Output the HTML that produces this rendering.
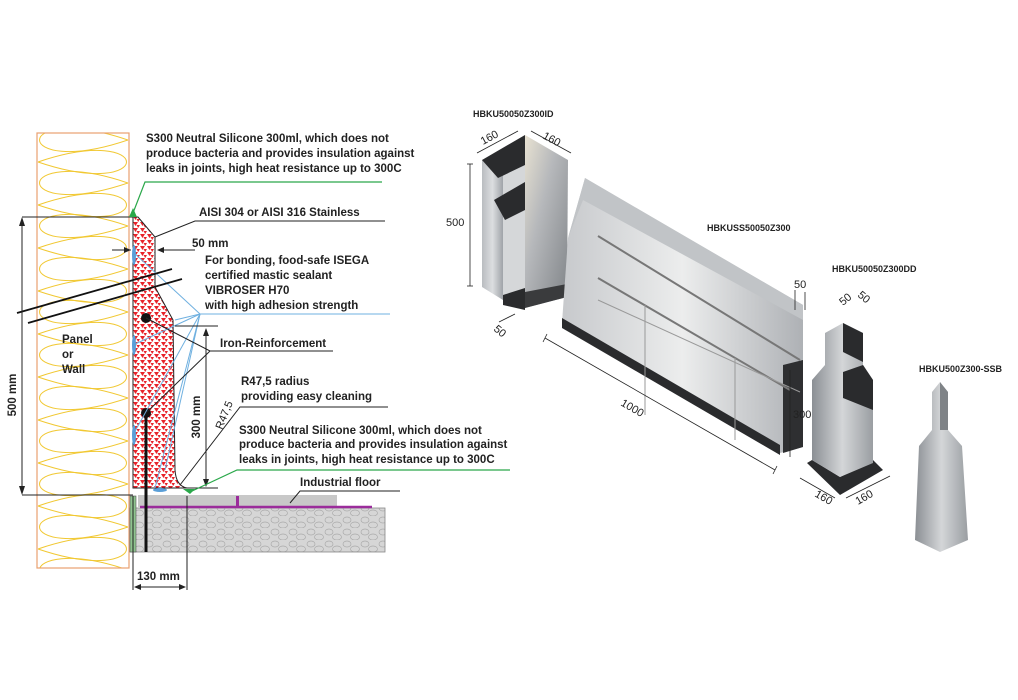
<!DOCTYPE html>
<html><head><meta charset="utf-8"><style>
html,body{margin:0;padding:0;background:#fff;}
svg{display:block;}
text{font-family:"Liberation Sans",sans-serif;}
.t{font-size:11.5px;font-weight:bold;fill:#222;}
.l{font-size:11px;fill:#222;}
.c{font-size:9px;font-weight:bold;fill:#222;}
</style></head><body>
<svg width="1018" height="700" viewBox="0 0 1018 700" xmlns="http://www.w3.org/2000/svg">
<defs>
<pattern id="tri" width="7" height="6" patternUnits="userSpaceOnUse">
<rect width="7" height="6" fill="#fff"/>
<polygon points="0,0 5,0 2.5,4" fill="#e8232a"/>
<polygon points="3.5,3 7,3 5.2,6" fill="#e8232a"/>
</pattern>
<pattern id="stone" width="18" height="12" patternUnits="userSpaceOnUse">
<rect width="18" height="12" fill="#d6d6d6"/>
<ellipse cx="5" cy="4" rx="4" ry="3" fill="none" stroke="#aaa" stroke-width="0.7"/>
<ellipse cx="13" cy="9" rx="4.5" ry="3" fill="none" stroke="#aaa" stroke-width="0.7"/>
</pattern>
<linearGradient id="m1" x1="0" y1="0" x2="1" y2="0"><stop offset="0" stop-color="#b9bcc0"/><stop offset="0.5" stop-color="#dcdee0"/><stop offset="1" stop-color="#9fa3a8"/></linearGradient>
<linearGradient id="m2" x1="0" y1="0" x2="1" y2="1"><stop offset="0" stop-color="#e8e2d2"/><stop offset="0.4" stop-color="#b6b8bb"/><stop offset="1" stop-color="#7f8387"/></linearGradient>
<linearGradient id="m3" x1="0" y1="0" x2="1" y2="0"><stop offset="0" stop-color="#c7c9cc"/><stop offset="0.5" stop-color="#eceded"/><stop offset="1" stop-color="#aeb1b5"/></linearGradient>
<linearGradient id="m4" x1="0" y1="0" x2="1" y2="0"><stop offset="0" stop-color="#8b8f94"/><stop offset="0.5" stop-color="#d4d6d8"/><stop offset="1" stop-color="#9a9ea2"/></linearGradient>
<clipPath id="pc"><rect x="37" y="133" width="92" height="435"/></clipPath>
</defs>

<!-- Panel -->
<rect x="37" y="133" width="92" height="435" fill="#fff"/>
<g fill="none" stroke="#f1c832" stroke-width="1" clip-path="url(#pc)">
<g id="lp"><path d="M128,140 C10,100 10,180 128,140"/><path d="M38,162 C156,122 156,202 38,162"/></g>
<use href="#lp" y="43"/><use href="#lp" y="86"/><use href="#lp" y="129"/><use href="#lp" y="172"/><use href="#lp" y="215"/><use href="#lp" y="258"/><use href="#lp" y="301"/><use href="#lp" y="344"/><use href="#lp" y="387"/><use href="#lp" y="430"/>
</g>
<rect x="37" y="133" width="92" height="435" fill="none" stroke="#e8a070" stroke-width="1.2"/>
<text x="62" y="343" class="t">Panel</text>
<text x="62" y="358" class="t">or</text>
<text x="62" y="373" class="t">Wall</text>

<!-- floor -->
<rect x="130" y="508" width="255" height="44" fill="url(#stone)" stroke="#888" stroke-width="0.8"/>
<rect x="138" y="495" width="199" height="12" fill="#c8c8c8"/>
<line x1="140" y1="507" x2="372" y2="507" stroke="#9b2c9b" stroke-width="2.5"/>
<rect x="236" y="496" width="3" height="11" fill="#9b2c9b"/>
<rect x="130" y="496" width="6" height="56" fill="#8fc48f" stroke="#555" stroke-width="0.6"/>

<!-- skirting -->
<path d="M133,217 L138,217 L155,237 L155,287 L173,320 L175,470 Q176,486 187,488 L133,488 Z" fill="url(#tri)" stroke="#222" stroke-width="1"/>
<line x1="146" y1="410" x2="146" y2="552" stroke="#111" stroke-width="3"/>
<circle cx="146" cy="318" r="5" fill="#111"/><circle cx="146" cy="413" r="5" fill="#111"/>

<!-- blue lines -->
<g stroke="#6fb0e0" stroke-width="1" fill="none">
<line x1="133" y1="252" x2="200" y2="314"/><line x1="133" y1="345" x2="200" y2="314"/><line x1="133" y1="435" x2="200" y2="314"/>
<line x1="155" y1="488" x2="200" y2="314"/><line x1="175" y1="320" x2="200" y2="314"/><line x1="165" y1="470" x2="200" y2="314"/>
<line x1="200" y1="314" x2="390" y2="314"/>
</g>
<g fill="#5a9fd8"><ellipse cx="134" cy="255" rx="2" ry="10"/><ellipse cx="134" cy="345" rx="2" ry="10"/><ellipse cx="134" cy="435" rx="2" ry="10"/><ellipse cx="160" cy="490" rx="7" ry="2"/></g>

<!-- panel diagonal lines -->
<g stroke="#111" stroke-width="1.8"><line x1="17" y1="313" x2="172" y2="269"/><line x1="28" y1="323" x2="182" y2="279"/></g>

<!-- black leader lines -->
<g stroke="#222" stroke-width="1" fill="none">
<line x1="22" y1="217" x2="133" y2="217"/><line x1="22" y1="495" x2="133" y2="495"/><line x1="22" y1="219" x2="22" y2="493"/>
<polyline points="155,237 195,221 385,221"/>
<line x1="112" y1="250" x2="131" y2="250"/><line x1="160" y1="250" x2="195" y2="250"/>
<line x1="175" y1="326" x2="218" y2="326"/><line x1="175" y1="488" x2="218" y2="488"/>
<line x1="206" y1="330" x2="206" y2="485"/>
<polyline points="146,318 210,351 333,351"/><line x1="146" y1="413" x2="210" y2="351"/>
<polyline points="180,485 240,407 388,407"/>
<polyline points="290,503 300,491 400,491"/>
<line x1="133" y1="496" x2="133" y2="590"/><line x1="187" y1="496" x2="187" y2="590"/><line x1="135" y1="587" x2="185" y2="587"/>
</g>
<g fill="#222">
<polygon points="22,217 19,226 25,226"/><polygon points="22,495 19,486 25,486"/>
<polygon points="131,250 124,247 124,253"/><polygon points="157,250 164,247 164,253"/>
<polygon points="206,328 203,336 209,336"/><polygon points="206,487 203,479 209,479"/>
<polygon points="134,587 141,584 141,590"/><polygon points="186,587 179,584 179,590"/>
</g>
<!-- green leaders -->
<g stroke="#2aa84a" stroke-width="1.2" fill="none"><polyline points="133,213 145,182 382,182"/><polyline points="190,492 237,470 510,470"/></g>
<g fill="#2aa84a"><polygon points="129,217 137,217 133,208"/><polygon points="183,489 195,489 190,494"/></g>

<text x="16" y="395" class="t" transform="rotate(-90 16 395)" text-anchor="middle">500 mm</text>
<text x="200" y="417" class="t" transform="rotate(-90 200 417)" text-anchor="middle">300 mm</text>
<text x="222" y="430" class="l" transform="rotate(-68 222 430)">R47,5</text>

<text x="146" y="142" class="t">S300 Neutral Silicone 300ml, which does not</text>
<text x="146" y="157" class="t">produce bacteria and provides insulation against</text>
<text x="146" y="172" class="t">leaks in joints, high heat resistance up to 300C</text>
<text x="199" y="216" class="t">AISI 304 or AISI 316 Stainless</text>
<text x="192" y="247" class="t">50 mm</text>
<text x="205" y="264" class="t">For bonding, food-safe ISEGA</text>
<text x="205" y="279" class="t">certified mastic sealant</text>
<text x="205" y="294" class="t">VIBROSER H70</text>
<text x="205" y="309" class="t">with high adhesion strength</text>
<text x="220" y="347" class="t">Iron-Reinforcement</text>
<text x="241" y="385" class="t">R47,5 radius</text>
<text x="241" y="400" class="t">providing easy cleaning</text>
<text x="239" y="434" class="t">S300 Neutral Silicone 300ml, which does not</text>
<text x="239" y="448" class="t">produce bacteria and provides insulation against</text>
<text x="239" y="463" class="t">leaks in joints, high heat resistance up to 300C</text>
<text x="300" y="486" class="t">Industrial floor</text>
<text x="137" y="580" class="t">130 mm</text>

<!-- ===== right side ===== -->
<!-- ID piece -->
<polygon points="482,160 503,172 503,300 482,287" fill="url(#m1)"/>
<polygon points="503,172 525,160 525,308 503,300" fill="#d5d7d9"/>
<polygon points="525,135 568,160 567,297 525,308" fill="url(#m2)"/>
<polygon points="482,160 525,135 525,165 498,178" fill="#2a2b2d"/>
<polygon points="494,200 525,182 525,210 505,220" fill="#2a2b2d"/>
<polygon points="503,295 525,288 525,310 503,305" fill="#2a2b2d"/>
<polygon points="525,292 567,284 567,297 525,308" fill="#3a3b3d"/>
<g stroke="#222" stroke-width="0.8" fill="none">
<line x1="470" y1="164" x2="470" y2="286"/><line x1="467" y1="164" x2="473" y2="164"/><line x1="467" y1="286" x2="473" y2="286"/>
<line x1="477" y1="153" x2="518" y2="131"/><line x1="531" y1="131" x2="571" y2="153"/>
<line x1="499" y1="322" x2="515" y2="314"/>
</g>
<text x="446" y="226" class="l">500</text>
<text x="483" y="145" class="l" transform="rotate(-28 483 145)">160</text>
<text x="542" y="138" class="l" transform="rotate(28 542 138)">160</text>
<text x="493" y="330" class="l" transform="rotate(40 493 330)">50</text>
<text x="473" y="117" class="c">HBKU50050Z300ID</text>

<!-- long piece -->
<polygon points="585,178 803,305 803,447 780,453 562,323 568,238" fill="url(#m3)"/>
<polygon points="585,178 803,305 803,320 583,200 568,238" fill="#c1c4c7"/>
<polygon points="562,318 780,445 780,455 562,328" fill="#2a2b2d"/>
<polygon points="783,365 803,360 803,447 783,453" fill="#2e2f31"/>
<g stroke="#777" stroke-width="2"><line x1="598" y1="236" x2="800" y2="360"/><line x1="598" y1="278" x2="790" y2="390"/></g>
<g stroke="#999" stroke-width="1"><line x1="645" y1="305" x2="645" y2="415"/><line x1="735" y1="358" x2="735" y2="440"/><line x1="598" y1="300" x2="800" y2="392"/></g>
<g stroke="#222" stroke-width="0.8"><line x1="545" y1="338" x2="775" y2="470"/><line x1="543" y1="342" x2="547" y2="334"/><line x1="773" y1="474" x2="777" y2="466"/><line x1="790" y1="370" x2="790" y2="457"/><line x1="795" y1="290" x2="795" y2="310"/><line x1="805" y1="292" x2="805" y2="310"/></g>
<text x="707" y="231" class="c">HBKUSS50050Z300</text>
<text x="620" y="405" class="l" transform="rotate(30 620 405)">1000</text>
<text x="793" y="418" class="l">300</text>
<text x="794" y="288" class="l">50</text>

<!-- DD pillar -->
<polygon points="807,463 840,495 883,470 873,460 840,477 812,460" fill="#2a2b2d"/>
<polygon points="843,323 863,333 863,365 873,380 873,463 840,477 812,460 812,380 825,365 825,333" fill="url(#m4)"/>
<polygon points="843,323 863,333 863,362 843,352" fill="#2a2b2d"/>
<polygon points="843,372 863,365 873,380 873,410 843,398" fill="#2a2b2d"/>
<g stroke="#222" stroke-width="0.8"><line x1="800" y1="478" x2="835" y2="498"/><line x1="846" y1="498" x2="890" y2="476"/></g>
<text x="832" y="272" class="c">HBKU50050Z300DD</text>
<text x="814" y="496" class="l" transform="rotate(30 814 496)">160</text>
<text x="858" y="505" class="l" transform="rotate(-30 858 505)">160</text>
<text x="843" y="306" class="l" transform="rotate(-40 843 306)">50</text>
<text x="857" y="296" class="l" transform="rotate(40 857 296)">50</text>

<!-- SSB pillar -->
<polygon points="940,382 948,392 948,430 962,446 968,540 940,552 915,540 919,446 932,430 932,392" fill="url(#m4)"/>
<polygon points="940,382 948,392 948,430 940,430" fill="#7f8387"/>
<text x="919" y="372" class="c">HBKU500Z300-SSB</text>
</svg>
</body></html>
